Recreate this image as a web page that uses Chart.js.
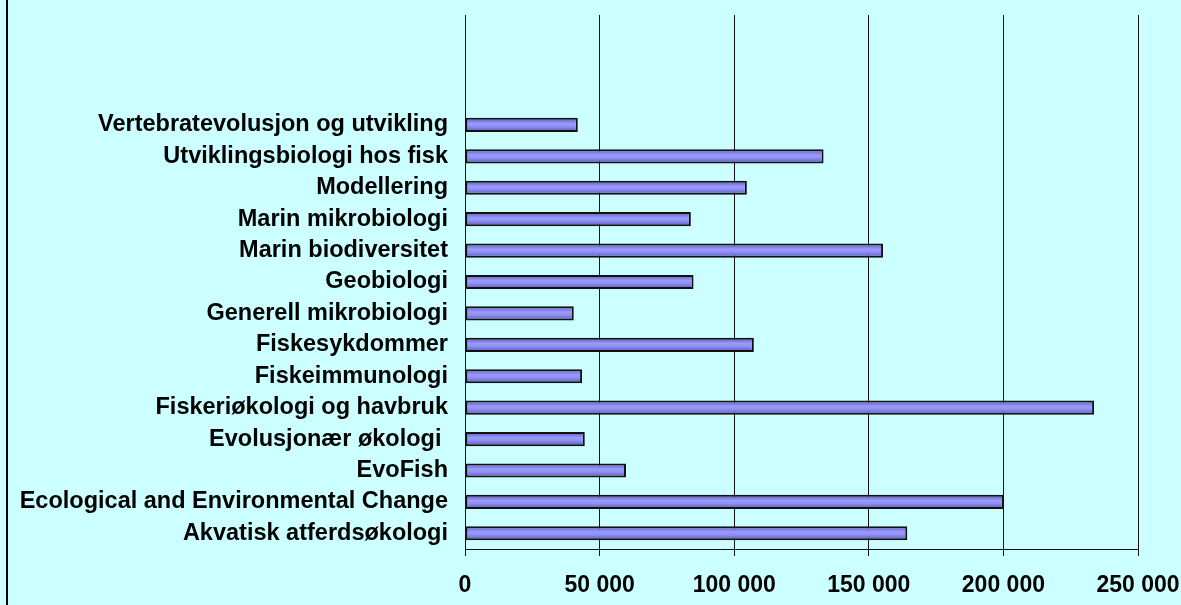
<!DOCTYPE html>
<html>
<head>
<meta charset="utf-8">
<script src="https://cdn.jsdelivr.net/npm/chart.js@4"></script>
<style>
  html, body { margin: 0; padding: 0; background: #CCFFFF; }
  #wrap { width: 1181px; height: 605px; }
</style>
</head>
<body>
<div id="wrap"><canvas id="myChart" width="1181" height="605"></canvas></div>
<script>
// three empty rows at the top, as in the original
var kategorier = ['', '', '',
    'Vertebratevolusjon og utvikling',
    'Utviklingsbiologi hos fisk',
    'Modellering',
    'Marin mikrobiologi',
    'Marin biodiversitet',
    'Geobiologi',
    'Generell mikrobiologi',
    'Fiskesykdommer',
    'Fiskeimmunologi',
    'Fiskeriøkologi og havbruk',
    'Evolusjonær økologi ',
    'EvoFish',
    'Ecological and Environmental Change',
    'Akvatisk atferdsøkologi'];
var verdier = [null, null, null,
    41900, 133200, 104700, 83900, 155300, 84900, 40400,
    107300, 43500, 233700, 44500, 59800, 200100, 164300];
var xTicks = ['0', '50 000', '100 000', '150 000', '200 000', '250 000'];

var fontFam = '"Liberation Sans", Arial, sans-serif';

var bakgrunn = {
    id: 'bakgrunn',
    beforeDraw: function (chart) {
        var c = chart.ctx;
        c.save();
        c.fillStyle = '#CCFFFF';
        c.fillRect(0, 0, chart.width, chart.height);
        c.strokeStyle = '#000';
        c.lineWidth = 2;
        c.beginPath();
        c.moveTo(7, 0);
        c.lineTo(7, chart.height);
        c.stroke();
        c.restore();
    }
};

var barH = 14;

function fyll(ctx) {
    var chart = ctx.chart;
    var y = chart.scales && chart.scales.y;
    if (!chart.chartArea || !y) return '#8f8ff5';
    var py = y.getPixelForValue(ctx.dataIndex);
    var g = chart.ctx.createLinearGradient(0, py - barH / 2, 0, py + barH / 2);
    g.addColorStop(0, '#5858b4');
    g.addColorStop(0.4, '#9a9aff');
    g.addColorStop(0.6, '#9090f5');
    g.addColorStop(1, '#5858b4');
    return g;
}

new Chart(document.getElementById('myChart'), {
    type: 'bar',
    data: {
        labels: kategorier,
        datasets: [{
            data: verdier,
            backgroundColor: fyll,
            borderColor: '#111',
            borderWidth: 2,
            borderSkipped: false,
            categoryPercentage: 1,
            barPercentage: 0.45
        }]
    },
    options: {
        indexAxis: 'y',
        responsive: false,
        animation: false,
        layout: { padding: { top: 15, right: 43, bottom: 0, left: 0 } },
        plugins: {
            legend: { display: false },
            tooltip: { enabled: false }
        },
        scales: {
            x: {
                min: 0,
                max: 250000,
                ticks: {
                    stepSize: 50000,
                    color: '#000',
                    font: { family: fontFam, size: 23, weight: 'bold' },
                    padding: 16,
                    maxRotation: 0,
                    callback: function (v, i) { return xTicks[i]; }
                },
                grid: { color: '#111', lineWidth: 1, tickLength: 7 },
                border: { color: '#111', width: 1 },
                afterFit: function (s) {
                    s.height = 56;
                    s.paddingLeft = 0;
                    s.paddingRight = 0;
                }
            },
            y: {
                ticks: {
                    color: '#000',
                    font: { family: fontFam, size: 23.5, weight: 'bold' },
                    padding: 9
                },
                grid: { display: false },
                border: { color: '#111', width: 1 },
                afterFit: function (s) {
                    s.width = 465;
                    s.paddingTop = 0;
                    s.paddingBottom = 0;
                }
            }
        }
    },
    plugins: [bakgrunn]
});
</script>
</body>
</html>
